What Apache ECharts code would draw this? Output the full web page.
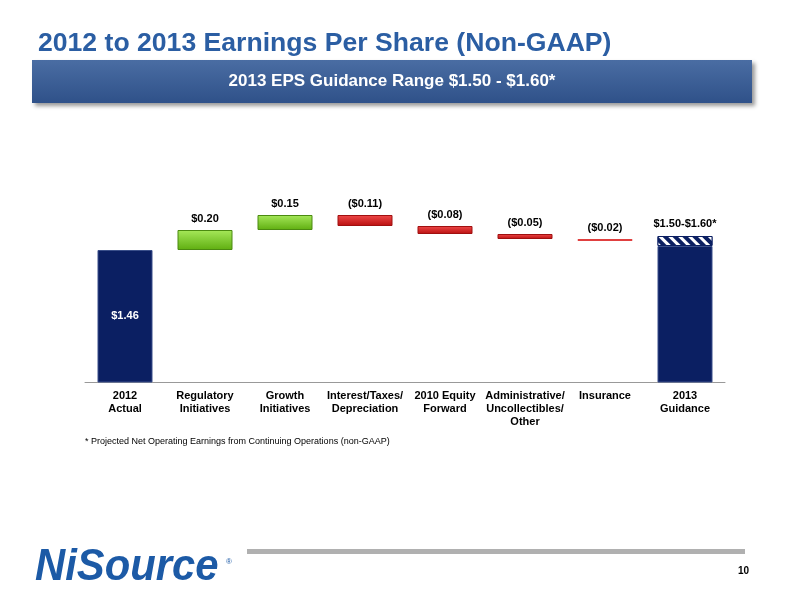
<!DOCTYPE html>
<html><head><meta charset="utf-8">
<script src="https://cdn.jsdelivr.net/npm/echarts@6/dist/echarts.min.js"></script>
<style>html,body{margin:0;padding:0;background:#fff}#c{width:800px;height:600px}</style>
</head><body><div id="c"></div>
<script>
const categories = ['2012\nActual','Regulatory\nInitiatives','Growth\nInitiatives','Interest/Taxes/\nDepreciation','2010 Equity\nForward','Administrative/\nUncollectibles/\nOther','Insurance','2013\nGuidance'];
const changes = [1.46, 0.20, 0.15, -0.11, -0.08, -0.05, -0.02, 1.50];
const guidanceRange = 0.10;
const labels = ['$1.46','$0.20','$0.15','($0.11)','($0.08)','($0.05)','($0.02)','$1.50-$1.60*'];

const navy = '#0b1f62';
const base = [], vis = [];
let cum = 0;
changes.forEach((v,i)=>{
  if(i===0||i===changes.length-1){ base.push(0); vis.push({value:v,itemStyle:{color:navy,borderColor:'#3a4f8a',borderWidth:1}}); cum = v; return; }
  if(v>=0){ base.push(cum); vis.push({value:v,itemStyle:{color:{type:'linear',x:0,y:0,x2:0,y2:1,colorStops:[{offset:0,color:'#a6e85a'},{offset:1,color:'#5fae10'}]},borderColor:'#4b8a10',borderWidth:1}}); cum+=v; }
  else { cum+=v; base.push(cum); vis.push({value:-v,itemStyle:{color:{type:'linear',x:0,y:0,x2:0,y2:1,colorStops:[{offset:0,color:'#f04a4a'},{offset:1,color:'#b80f0f'}]},borderColor:i===6?'#e04040':'#a01010',borderWidth:1}}); }
});
const hatch = changes.map((v,i)=> i===changes.length-1 ? guidanceRange : '-');
const chart = echarts.init(document.getElementById('c'));
const lblTop = {show:true,position:'top',color:'#000',fontWeight:'bold',fontSize:11,fontFamily:'Liberation Sans',distance:6};
chart.setOption({
  animation:false,
  grid:{left:85,right:75,top:196,bottom:218},
  xAxis:{type:'category',data:categories,axisTick:{show:false},axisLine:{lineStyle:{color:'#999'}},
    axisLabel:{color:'#000',fontWeight:'bold',fontSize:11,fontFamily:'Liberation Sans',interval:0,margin:7,lineHeight:13}},
  yAxis:{type:'value',min:0.14,max:2.0,show:false,splitLine:{show:false}},
  series:[
    {type:'bar',stack:'w',data:base,barWidth:55,itemStyle:{color:'transparent'},silent:true},
    {type:'bar',stack:'w',data:vis.map((d,i)=>{
      const o=Object.assign({},d);
      if(i===0) o.label={show:true,position:'inside',color:'#fff',fontWeight:'bold',fontSize:11,fontFamily:'Liberation Sans',formatter:labels[0]};
      else if(i===changes.length-1) o.label={show:false};
      else o.label=Object.assign({},lblTop,{formatter:labels[i]});
      return o;}),barWidth:55},
    {type:'bar',stack:'w',data:hatch,barWidth:55,
      itemStyle:{color:navy,borderColor:navy,borderWidth:1,decal:{symbol:'rect',color:'#fff',dashArrayX:[1,0],dashArrayY:[3,4],rotation:Math.PI/4,symbolSize:1}},
      label:Object.assign({},lblTop,{formatter:labels[7],distance:7})}
  ],
  graphic:[
    {type:'text',left:38,top:30,style:{text:'2012 to 2013 Earnings Per Share (Non-GAAP)',fill:'#2b5ea3',font:'bold 26.6px Liberation Sans'}},
    {type:'rect',shape:{x:32,y:60,width:720,height:43},style:{fill:{type:'linear',x:0,y:0,x2:0,y2:1,colorStops:[{offset:0,color:'#4a6da3'},{offset:1,color:'#2f5189'}]},shadowBlur:4,shadowOffsetX:3,shadowOffsetY:3,shadowColor:'rgba(0,0,0,0.4)'}},
    {type:'text',x:392,y:81,style:{text:'2013 EPS Guidance Range $1.50 - $1.60*',fill:'#fff',font:'bold 17px Liberation Sans',align:'center',verticalAlign:'middle'}},
    {type:'text',left:85,top:437,style:{text:'* Projected Net Operating Earnings from Continuing Operations (non-GAAP)',fill:'#000',font:'9px Liberation Sans'}},
    {type:'rect',shape:{x:247,y:549,width:498,height:5},style:{fill:'#b0b0b0'}},
    {type:'text',left:738,top:566,style:{text:'10',fill:'#000',font:'bold 10px Liberation Sans'}},
    {type:'text',x:35,y:590,scaleX:0.95,style:{text:'NiSource',fill:'#1c5aa6',font:'italic bold 44px Liberation Sans',verticalAlign:'bottom'}},
    {type:'text',left:226,top:558,style:{text:'®',fill:'#1c5aa6',font:'8px Liberation Sans'}}
  ]
});
</script></body></html>
